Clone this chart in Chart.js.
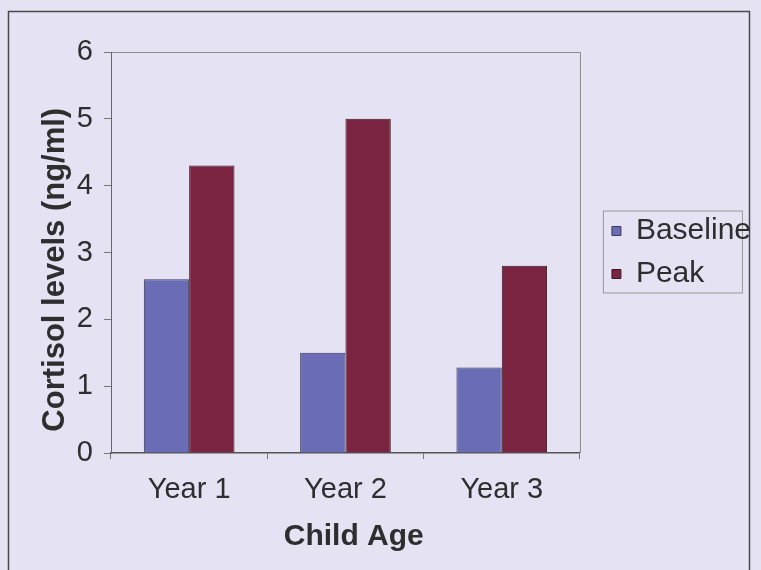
<!DOCTYPE html>
<html>
<head>
<meta charset="utf-8">
<script src="https://cdn.jsdelivr.net/npm/chart.js@4.4.1/dist/chart.umd.min.js"></script>
<style>
    html, body { margin: 0; padding: 0; background: #e4e2f3; }
    #wrap { width: 761px; height: 570px; position: relative; }
</style>
</head>
<body>
<div id="wrap"><canvas id="cortisolChart" width="761" height="570"></canvas></div>
<script>
// chart data
const categories = ['Year 1', 'Year 2', 'Year 3'];
const baselineValues = [2.6, 1.5, 1.28];
const peakValues = [4.3, 5.0, 2.8];
const yTicks = [0, 1, 2, 3, 4, 5, 6];

const FONT = "'Liberation Sans', Arial, sans-serif";
const TEXT = '#2e2e2e';

// frame round the whole chart, plot border and legend box
const framePlugin = {
    id: 'frame',
    afterLayout(chart) {
        // legend sits a bit away from the plot
        const lg = chart.legend;
        lg.left += 19;
        lg.right += 19;
    },
    beforeDraw(chart) {
        const ctx = chart.ctx;
        const a = chart.chartArea;
        ctx.save();
        ctx.strokeStyle = '#4a4a4a';
        ctx.lineWidth = 1.5;
        ctx.beginPath();
        ctx.moveTo(8.5, 572);
        ctx.lineTo(8.5, 11.5);
        ctx.lineTo(749.5, 11.5);
        ctx.lineTo(749.5, 572);
        ctx.stroke();

        ctx.strokeStyle = '#8a8a8a';
        ctx.lineWidth = 1;
        ctx.beginPath();
        ctx.moveTo(a.left, a.top + 0.5);
        ctx.lineTo(a.right + 0.5, a.top + 0.5);
        ctx.lineTo(a.right + 0.5, a.bottom);
        ctx.stroke();

        const mid = (a.top + a.bottom) / 2;
        ctx.strokeStyle = '#9a9a9a';
        ctx.strokeRect(a.right + 23.5, mid - 41.5, 139, 82);
        ctx.restore();
    }
};

new Chart(document.getElementById('cortisolChart'), {
    type: 'bar',
    data: {
        labels: categories,
        datasets: [
            {
                label: 'Baseline',
                data: baselineValues,
                backgroundColor: '#6a6db6',
                borderColor: '#3a3a5a',
                borderWidth: 1
            },
            {
                label: 'Peak',
                data: peakValues,
                backgroundColor: '#7b2442',
                borderColor: '#3a1a24',
                borderWidth: 1
            }
        ]
    },
    options: {
        responsive: false,
        animation: false,
        events: [],
        layout: { padding: { left: 8, right: 19, top: 52, bottom: 8 } },
        datasets: {
            bar: { categoryPercentage: 0.58, barPercentage: 1.0 }
        },
        plugins: {
            legend: {
                position: 'right',
                fullSize: false,
                align: 'center',
                labels: {
                    boxWidth: 9,
                    boxHeight: 9,
                    padding: 13,
                    color: TEXT,
                    font: { family: FONT, size: 30 }
                }
            },
            tooltip: { enabled: false }
        },
        scales: {
            x: {
                grid: {
                    display: true,
                    drawOnChartArea: false,
                    drawTicks: true,
                    tickLength: 6,
                    tickColor: '#777'
                },
                border: { color: '#555', width: 1.5 },
                ticks: {
                    color: TEXT,
                    padding: 14,
                    font: { family: FONT, size: 29 }
                },
                title: {
                    display: true,
                    // leading spaces nudge the title right like the original
                    text: '  Child Age',
                    color: TEXT,
                    padding: { top: 0, bottom: 7 },
                    font: { family: FONT, size: 30, weight: 'bold' }
                },
                afterFit(scale) { scale.height = 109; }
            },
            y: {
                min: 0,
                max: 6,
                afterBuildTicks(scale) {
                    scale.ticks = yTicks.map(v => ({ value: v }));
                },
                grid: {
                    display: true,
                    drawOnChartArea: false,
                    drawTicks: true,
                    tickLength: 7,
                    tickColor: '#777'
                },
                border: { color: '#666', width: 1 },
                ticks: {
                    color: TEXT,
                    padding: 11,
                    font: { family: FONT, size: 29 }
                },
                title: {
                    display: true,
                    // trailing spaces push the title down a little
                    text: 'Cortisol levels (ng/ml)    ',
                    color: TEXT,
                    padding: { top: 29, bottom: 0 },
                    font: { family: FONT, size: 31, weight: 'bold' }
                },
                afterFit(scale) { scale.width = 103; }
            }
        }
    },
    plugins: [framePlugin]
});
</script>
</body>
</html>
